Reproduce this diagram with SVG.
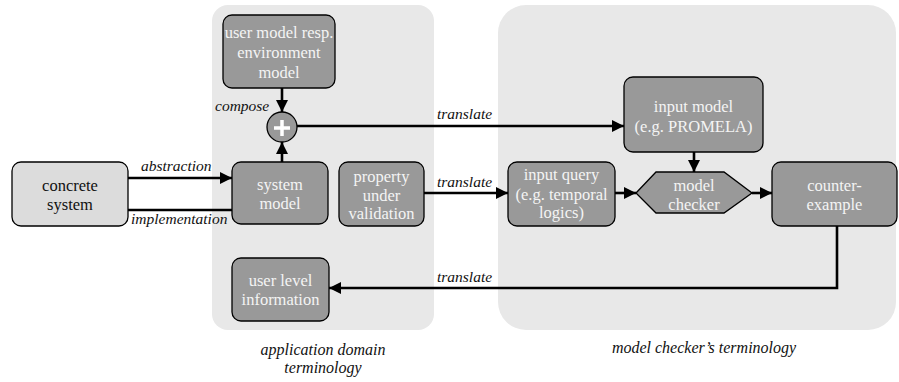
<svg xmlns="http://www.w3.org/2000/svg" width="899" height="382" viewBox="0 0 899 382" font-family="'Times New Roman', 'Liberation Serif', 'Noto Serif', 'DejaVu Serif', serif">
<style>
.panel{fill:#e8e8e8;stroke:none}
.node{fill:#999999;stroke:#000;stroke-width:1.3}
.light{fill:#dcdcdc;stroke:#000;stroke-width:1.3}
.t{font-size:16.5px;fill:#f4f4f4;text-anchor:middle}
.tb{font-size:16.5px;fill:#111;text-anchor:middle}
.lab{font-size:15.5px;font-style:italic;fill:#111}
.cap{font-size:16px;font-style:italic;fill:#111;text-anchor:middle}
.c{fill:none;stroke:#000;stroke-width:2.6}
</style>
<defs>
<marker id="ah" viewBox="0 0 10 10" refX="10" refY="5" markerWidth="12" markerHeight="12" markerUnits="userSpaceOnUse" orient="auto">
<path d="M0,0 L10,5 L0,10 z" fill="#000"/>
</marker>
</defs>
<g id="panels">
<rect class="panel" x="212" y="5" width="222" height="325" rx="16"/>
<rect class="panel" x="498" y="5" width="398" height="325" rx="28"/>
</g>
<g id="connectors">
<line class="c" x1="282" y1="88" x2="282" y2="112" marker-end="url(#ah)"/>
<line class="c" x1="282" y1="162" x2="282" y2="142" marker-end="url(#ah)"/>
<line class="c" x1="297" y1="126" x2="624" y2="126" marker-end="url(#ah)"/>
<line class="c" x1="128" y1="178" x2="232" y2="178" marker-end="url(#ah)"/>
<line class="c" x1="128" y1="210" x2="232" y2="210"/>
<line class="c" x1="424" y1="193" x2="508" y2="193" marker-end="url(#ah)"/>
<line class="c" x1="615" y1="193" x2="636" y2="193" marker-end="url(#ah)"/>
<line class="c" x1="694" y1="152" x2="694" y2="172" marker-end="url(#ah)"/>
<line class="c" x1="752" y1="193" x2="772" y2="193" marker-end="url(#ah)"/>
<polyline class="c" points="837,226 837,288 329,288" marker-end="url(#ah)"/>
<text class="lab" x="215" y="111">compose</text>
<text class="lab" x="437" y="119">translate</text>
<text class="lab" x="141" y="171">abstraction</text>
<text class="lab" x="131" y="224">implementation</text>
<text class="lab" x="437" y="187">translate</text>
<text class="lab" x="437" y="282">translate</text>
</g>
<g id="env-model">
<rect class="node" x="223" y="15" width="112" height="73" rx="9"/>
<text class="t" x="279" y="38">user model resp.</text>
<text class="t" x="279" y="58">environment</text>
<text class="t" x="279" y="78">model</text>
</g>
<g id="compose">
<circle class="node" cx="282" cy="127" r="15"/>
<path d="M274,128 H290 M282,120 V136" stroke="#fff" stroke-width="3.5" fill="none"/>
</g>
<g id="concrete-system">
<rect class="light" x="12" y="162" width="116" height="64" rx="9"/>
<text class="tb" x="70" y="191">concrete</text>
<text class="tb" x="70" y="210">system</text>
</g>
<g id="system-model">
<rect class="node" x="232" y="162" width="96" height="62" rx="9"/>
<text class="t" x="280" y="190">system</text>
<text class="t" x="280" y="209">model</text>
</g>
<g id="property">
<rect class="node" x="339" y="162" width="85" height="64" rx="9"/>
<text class="t" x="381.5" y="182">property</text>
<text class="t" x="381.5" y="201">under</text>
<text class="t" x="381.5" y="219">validation</text>
</g>
<g id="user-level">
<rect class="node" x="232" y="258" width="97" height="63" rx="9"/>
<text class="t" x="280.5" y="286">user level</text>
<text class="t" x="280.5" y="305">information</text>
</g>
<g id="input-model">
<rect class="node" x="624" y="77" width="139" height="75" rx="9"/>
<text class="t" x="693.5" y="112">input model</text>
<text class="t" x="693.5" y="132">(e.g. PROMELA)</text>
</g>
<g id="input-query">
<rect class="node" x="508" y="162" width="107" height="64" rx="9"/>
<text class="t" x="561.5" y="180">input query</text>
<text class="t" x="561.5" y="200">(e.g. temporal</text>
<text class="t" x="561.5" y="218">logics)</text>
</g>
<g id="model-checker">
<polygon class="node" points="636,193 656,172 724,172 752,193 724,213 656,213"/>
<text class="t" x="694" y="191">model</text>
<text class="t" x="694" y="210">checker</text>
</g>
<g id="counter-example">
<rect class="node" x="772" y="162" width="125" height="64" rx="9"/>
<text class="t" x="834.5" y="191">counter-</text>
<text class="t" x="834.5" y="210">example</text>
</g>
<g id="captions">
<text class="cap" x="323" y="355">application domain</text>
<text class="cap" x="323" y="373">terminology</text>
<text class="cap" x="704" y="353">model checker’s terminology</text>
</g>
</svg>
